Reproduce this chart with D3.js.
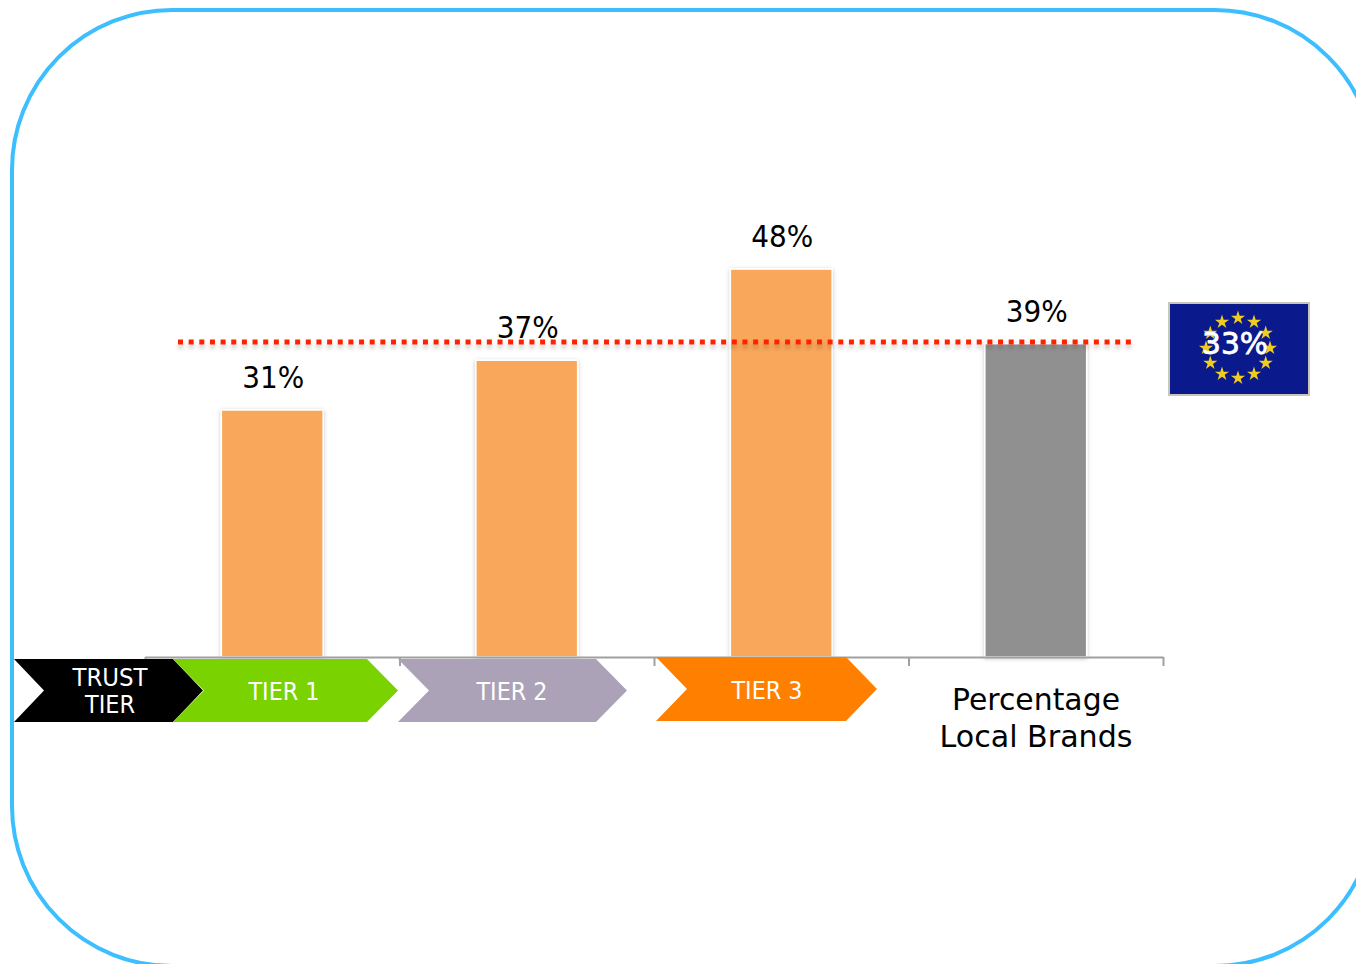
<!DOCTYPE html>
<html><head><meta charset="utf-8">
<script src="https://cdn.jsdelivr.net/npm/d3@7/dist/d3.min.js"></script>
<style>html,body{margin:0;background:#fff;overflow:hidden}svg{display:block}text{font-family:"DejaVu Sans",sans-serif}</style>
</head><body><svg id="c" width="1356" height="964"></svg>
<script>
const categories = ["TIER 1", "TIER 2", "TIER 3", "Percentage Local Brands"];
const values = [31, 37, 48, 39];
const valueLabels = ["31%", "37%", "48%", "39%"];
const barColors = ["#f9a75a", "#f9a75a", "#f9a75a", "#909090"];
const linePosition = [39.2];
const euLabel = ["33%"];
const rowTitle = ["TRUST", "TIER"];
const lastLabel = ["Percentage", "Local Brands"];
const tierLabels = ["TIER 1", "TIER 2", "TIER 3"];

const svg = d3.select("#c");
const defs = svg.append("defs");
const shadow = defs.append("filter").attr("id","sh").attr("x","-20%").attr("y","-20%").attr("width","140%").attr("height","140%");
shadow.append("feDropShadow").attr("dx",0).attr("dy",1).attr("stdDeviation",2).attr("flood-color","#000").attr("flood-opacity",0.22);
const lshadow = defs.append("filter").attr("id","lsh").attr("filterUnits","userSpaceOnUse")
  .attr("x",160).attr("y",320).attr("width",990).attr("height",50);
lshadow.append("feDropShadow").attr("dx",0).attr("dy",4).attr("stdDeviation",2).attr("flood-color","#000").attr("flood-opacity",0.2);

svg.append("rect").attr("x",12).attr("y",10).attr("width",1363).attr("height",956).attr("rx",160).attr("ry",160)
  .attr("fill","#fff").attr("stroke","#3dbfff").attr("stroke-width",4);

const baseY = 657;
const x = d3.scaleBand().domain(categories).range([145,1163]).paddingInner(0.6).paddingOuter(0.3);
const y = d3.scaleLinear().domain([1.2,50]).range([baseY, 252.5]);
const edge = d3.scaleLinear().domain([0,categories.length]).range([145,1163]);
const bw = x.bandwidth(), cx = c => x(c)+bw/2;

svg.append("g").selectAll("rect").data(categories).join("rect")
  .attr("x",c=>x(c)).attr("width",bw)
  .attr("y",(c,i)=>y(values[i])).attr("height",(c,i)=>baseY-y(values[i]))
  .attr("fill",(c,i)=>barColors[i]).attr("stroke","#fff").attr("stroke-width",1.5)
  .attr("filter","url(#sh)");

const ax = svg.append("g").attr("transform",`translate(0,${baseY})`)
  .call(d3.axisBottom(edge).tickValues(d3.range(categories.length+1)).tickFormat("").tickSize(9).tickSizeOuter(0));
ax.selectAll("path,line").attr("stroke","#a0a0a0").attr("stroke-width",2);

const flag = {x:1169,y:303,w:140,h:92};
svg.append("line").attr("x1",178).attr("x2",1131).attr("y1",y(linePosition[0])).attr("y2",y(linePosition[0]))
  .attr("stroke","#ff2200").attr("stroke-width",5).attr("stroke-dasharray","5 5.65").attr("filter","url(#lsh)");

svg.append("g").selectAll("text").data(categories).join("text")
  .attr("x",c=>cx(c)+1).attr("y",(c,i)=>y(values[i])-22)
  .attr("text-anchor","middle").attr("font-size",31).attr("textLength",62).attr("lengthAdjust","spacingAndGlyphs").attr("fill","#000")
  .text((c,i)=>valueLabels[i]);

function chevron(x0,x1,tip,top,bot){const m=(top+bot)/2;return d3.line()([[x0,top],[x1,top],[x1+tip,m],[x1,bot],[x0,bot],[x0+tip,m]])+"Z";}
const chevrons = [
 {x0:14,x1:173,tip:30,top:659,bot:722,c:"#000000"},
 {x0:173,x1:367,tip:31,top:659,bot:722,c:"#7ad300"},
 {x0:398,x1:596,tip:31,top:659,bot:722,c:"#aba2b8"},
 {x0:656,x1:846,tip:31,top:657,bot:721,c:"#ff8000"}];
svg.append("g").selectAll("path").data(chevrons).join("path")
  .attr("d",d=>chevron(d.x0,d.x1,d.tip,d.top,d.bot)).attr("fill",d=>d.c);

const white = (sel)=>sel.attr("fill","#fff").attr("text-anchor","middle");
const rowG = svg.append("g");
rowG.selectAll("text.t").data(rowTitle).join("text").attr("class","t").call(white)
  .attr("x",110).attr("y",(d,i)=>686+i*27).attr("font-size",24).attr("textLength",(d,i)=>i?50:75).attr("lengthAdjust","spacingAndGlyphs").text(d=>d);
const tierX=[284,512,767], tierY=[700,700,699];
rowG.selectAll("text.u").data(tierLabels).join("text").attr("class","u").call(white)
  .attr("x",(d,i)=>tierX[i]).attr("y",(d,i)=>tierY[i]).attr("font-size",24).attr("textLength",71).attr("lengthAdjust","spacingAndGlyphs").text(d=>d);

svg.append("g").selectAll("text").data(lastLabel).join("text")
  .attr("x",1036).attr("y",(d,i)=>710+i*37).attr("text-anchor","middle").attr("font-size",31).attr("fill","#000")
  .attr("textLength",(d,i)=>i?193:168).attr("lengthAdjust","spacingAndGlyphs").text(d=>d);

svg.append("rect").attr("x",flag.x).attr("y",flag.y).attr("width",flag.w).attr("height",flag.h)
  .attr("fill","#0a1a8c").attr("stroke","#c9c6b8").attr("stroke-width",2);
const starAngle = d3.scaleLinear().domain([0,12]).range([0,2*Math.PI]);
const star = d3.symbol().type(d3.symbolStar).size(62);
svg.append("g").selectAll("path").data(d3.range(12)).join("path").attr("d",star)
  .attr("fill","#f0cc20")
  .attr("transform",i=>`translate(${1238+32*Math.sin(starAngle(i))},${348-30*Math.cos(starAngle(i))})`);
svg.append("text").attr("x",1235).attr("y",354).attr("text-anchor","middle").attr("font-size",31)
  .attr("fill","#fff").attr("stroke","#fff").attr("stroke-width",0.8).attr("textLength",66).attr("lengthAdjust","spacingAndGlyphs").text(euLabel[0]);
</script></body></html>
